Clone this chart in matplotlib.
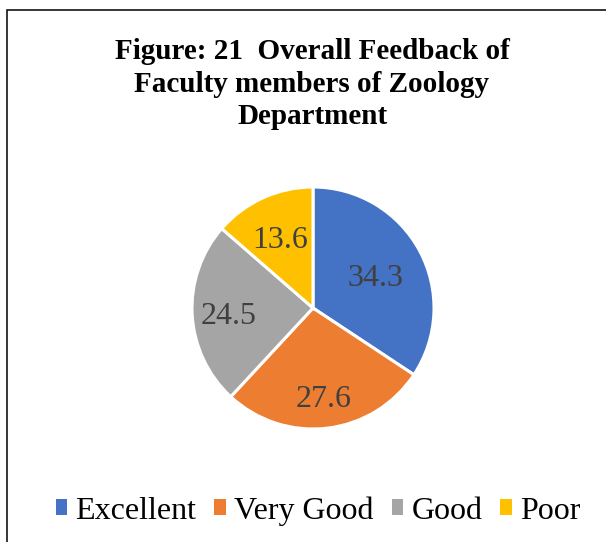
import matplotlib
matplotlib.use("Agg")
import matplotlib.pyplot as plt
import numpy as np
from matplotlib.patches import Rectangle, Patch
from matplotlib.transforms import ScaledTranslation

categories = ["Excellent", "Very Good", "Good", "Poor"]
values = [34.3, 27.6, 24.5, 13.6]
colors = ["#4472C4", "#ED7D31", "#A5A5A5", "#FFC000"]
label_radius = [0.59, 0.73, 0.70, 0.65]
title = "Figure: 21  Overall Feedback of\nFaculty members of Zoology\nDepartment"

plt.rcParams['font.family'] = ['Liberation Serif', 'DejaVu Serif']

W, H = 606, 542
fig = plt.figure(figsize=(W/100, H/100), dpi=100)

# border
fig.patches.append(Rectangle((6.5/W, -0.1), 1.0, (H-10)/H + 0.1, transform=fig.transFigure,
                             fill=False, edgecolor='black', linewidth=1.1))

fig.text(312/W, 1-84/H, title, ha='center', va='center', fontsize=21,
         fontweight='bold', linespacing=1.26, multialignment='center')

cx, cy, r = 313, 308, 121
ax = fig.add_axes([(cx-r)/W, (H-cy-r)/H, 2*r/W, 2*r/H])
wedges, _ = ax.pie(values, colors=colors, startangle=90, counterclock=False,
                   wedgeprops=dict(edgecolor='white', linewidth=2.2))
ax.set_xlim(-1, 1)
ax.set_ylim(-1, 1)
ax.set_aspect('auto')
ax.axis('off')
shift = ScaledTranslation(0, -4/100, fig.dpi_scale_trans)
for w, v, lr in zip(wedges, values, label_radius):
    ang = np.deg2rad((w.theta1 + w.theta2) / 2)
    ax.text(lr*np.cos(ang), lr*np.sin(ang), f"{v}", ha='center', va='center',
            fontsize=23, color='#404040', transform=ax.transData + shift)

handles = [Patch(facecolor=c, edgecolor='none') for c in colors]
fig.legend(handles, categories, loc='center', bbox_to_anchor=(318/W, 1-511/H),
           ncol=4, frameon=False, fontsize=23, handlelength=0.36, handleheight=0.4,
           handletextpad=0.26, columnspacing=0.56, borderaxespad=0, borderpad=0)

fig.savefig("out.png", dpi=100)
